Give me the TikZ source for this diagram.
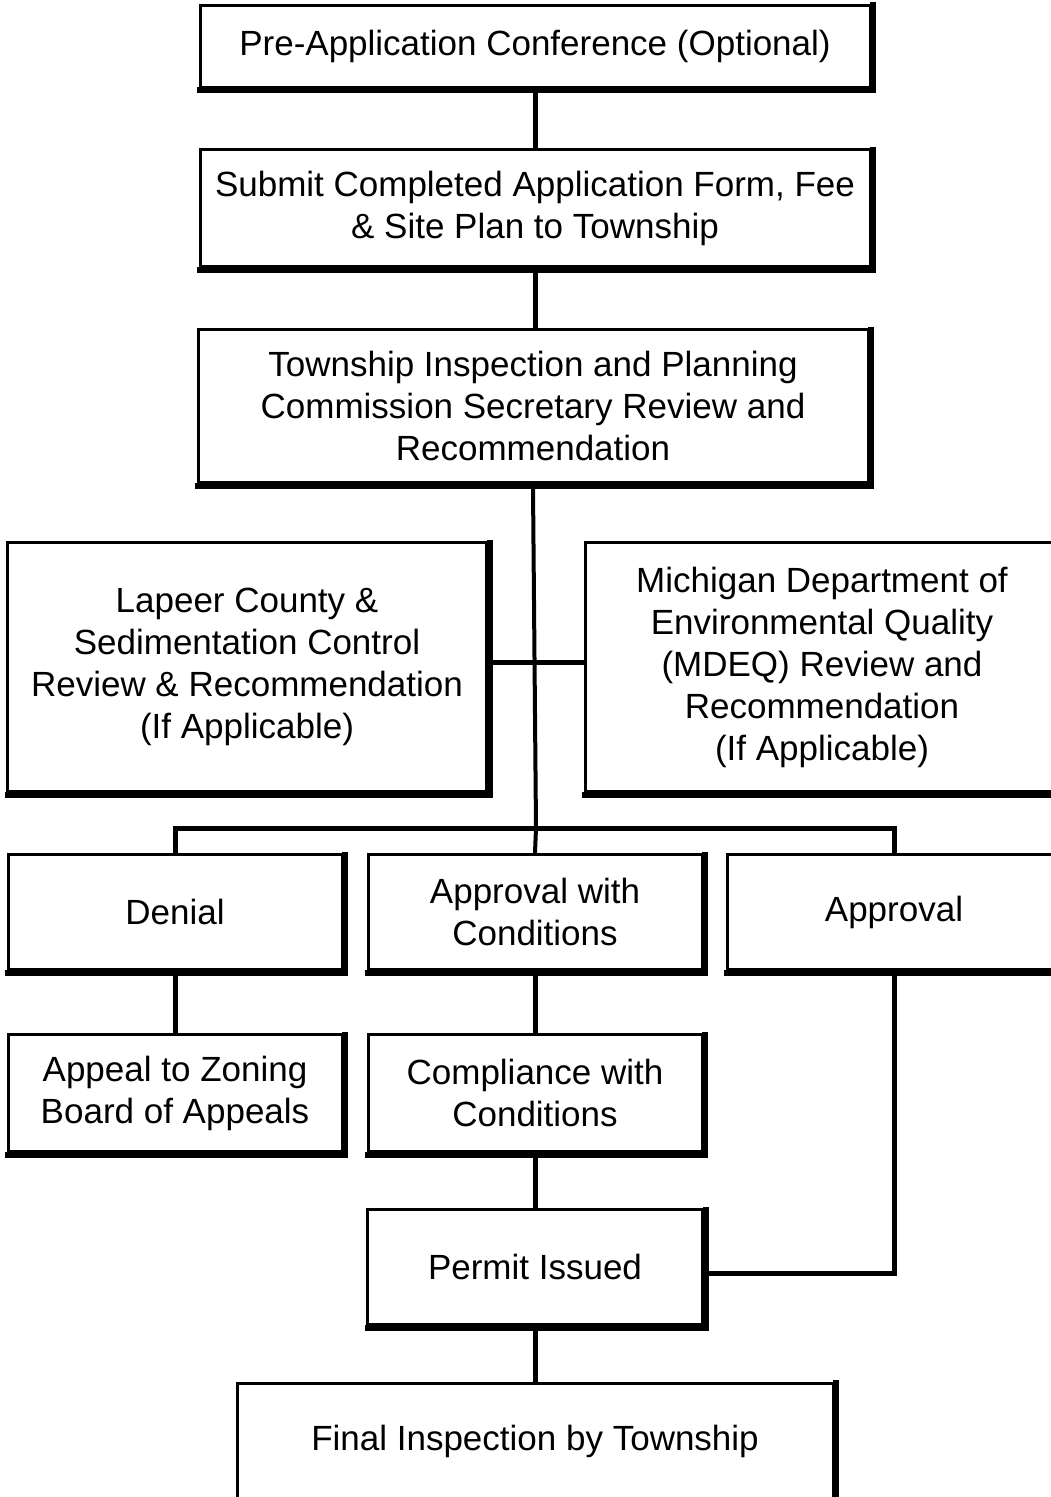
\documentclass[tikz,border=0pt]{standalone}
\usepackage{fontspec}
\setmainfont{Liberation Sans}
\begin{document}
\begin{tikzpicture}[x=1pt,y=-1pt,
  fbox/.style={draw=black,line width=3pt,fill=white,align=center,inner sep=0pt,
    font=\fontsize{35}{42}\selectfont},
  conn/.style={line width=5pt,draw=black}]
\useasboundingbox (0,0) rectangle (1050,1497);
\coordinate (bus) at (536,828);
\node[fbox,minimum width=670pt,minimum height=82pt] (b1) at (535,46) {Pre-Application Conference (Optional)};
\node[fbox,minimum width=670pt,minimum height=117pt] (b2) at (535,208) {Submit Completed Application Form, Fee\\ \& Site Plan to Township};
\node[fbox,minimum width=670pt,minimum height=153pt] (b3) at (533,406) {Township Inspection and Planning\\ Commission Secretary Review and\\ Recommendation};
\node[fbox,minimum width=479pt,minimum height=249pt] (lap) at (247,667) {Lapeer County \&\\ Sedimentation Control\\ Review \& Recommendation\\ (If Applicable)};
\node[fbox,minimum width=474pt,minimum height=249pt] (mdeq) at (822,667) {Michigan Department of\\ Environmental Quality\\ (MDEQ) Review and\\ Recommendation\\ (If Applicable)};
\node[fbox,minimum width=334pt,minimum height=115pt] (den) at (175,912) {Denial};
\node[fbox,minimum width=334pt,minimum height=115pt] (apc) at (535,912) {Approval with\\ Conditions};
\node[fbox,minimum width=334pt,minimum height=115pt] (apr) at (894,912) {Approval};
\node[fbox,minimum width=334pt,minimum height=117pt] (app) at (175,1093) {Appeal to Zoning\\ Board of Appeals};
\node[fbox,minimum width=334pt,minimum height=117pt] (cmp) at (535,1093) {Compliance with\\ Conditions};
\node[fbox,minimum width=335pt,minimum height=115pt] (per) at (535,1267) {Permit Issued};
\node[fbox,minimum width=596pt,minimum height=116pt] (fin) at (535,1441) {Final Inspection by Township};
% thick right and bottom edges
\foreach \n in {b1,b2,b3,lap,mdeq,den,apc,apr,app,cmp,per,fin}{
  \fill[black] ([xshift=-1.5pt,yshift=1.5pt]\n.south west) rectangle ([xshift=4.5pt,yshift=-4.5pt]\n.south east);
  \fill[black] ([xshift=-1.5pt,yshift=-4.5pt]\n.south east) rectangle ([xshift=4.5pt,yshift=1.5pt]\n.north east);
}
% connectors
\draw[conn] ([yshift=-4pt]b1.south) -- (b2.north);
\draw[conn] ([yshift=-4pt]b2.south) -- (b2.south |- b3.north);
\draw[line width=4pt] ([yshift=-4pt]b3.south) -- (bus) -- (apc.north);
\draw[conn] ([xshift=4pt,yshift=5pt]lap.east) -- ([yshift=5pt]mdeq.west);
\draw[conn] (den.north) |- (bus) -| (apr.north);
\draw[conn] ([yshift=-4pt]den.south) -- (app.north);
\draw[conn] ([yshift=-4pt]apc.south) -- (cmp.north);
\draw[conn] ([yshift=-4pt]cmp.south) -- (per.north);
\draw[conn] ([yshift=-4pt]apr.south) |- ([xshift=4pt,yshift=-6pt]per.east);
\draw[conn] ([yshift=-4pt]per.south) -- (fin.north);
\end{tikzpicture}
\end{document}
